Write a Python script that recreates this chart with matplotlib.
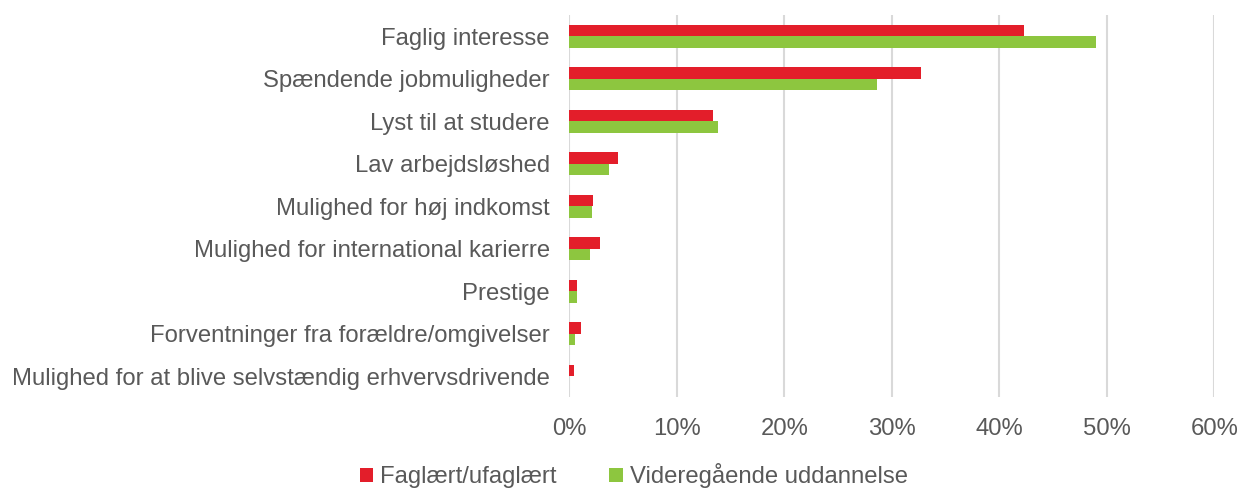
import numpy as np
import matplotlib.pyplot as plt
from matplotlib.ticker import PercentFormatter

plt.rcParams['font.family'] = ['Liberation Sans', 'DejaVu Sans']

categories = ["Faglig interesse", "Spændende jobmuligheder", "Lyst til at studere",
              "Lav arbejdsløshed", "Mulighed for høj indkomst",
              "Mulighed for international karierre", "Prestige",
              "Forventninger fra forældre/omgivelser",
              "Mulighed for at blive selvstændig erhvervsdrivende"]
faglaert = [42.3, 32.7, 13.4, 4.5, 2.2, 2.9, 0.7, 1.1, 0.4]
videregaaende = [49.0, 28.6, 13.8, 3.7, 2.1, 1.9, 0.7, 0.5, 0.0]

red = "#E31E2A"
green = "#8DC63F"
txt = "#595959"
fs = 17.2

fig = plt.figure(figsize=(12.43, 4.88), dpi=100)
ax = fig.add_axes([0.458, 0.186, 0.519, 0.783])

y = np.arange(len(categories))
h = 0.27
ax.barh(y - h / 2, faglaert, height=h, color=red, label="Faglært/ufaglært", zorder=3)
ax.barh(y + h / 2, videregaaende, height=h, color=green, label="Videregående uddannelse", zorder=3)

ax.set_ylim(len(categories) - 0.5, -0.5)
ax.set_xlim(0, 60)
ax.set_xticks(range(0, 61, 10))
ax.xaxis.set_major_formatter(PercentFormatter(decimals=0))
ax.set_yticks(y)
ax.set_yticklabels(categories)
ax.grid(axis='x', color="#D9D9D9", linewidth=1.5, zorder=0)
for s in ax.spines.values():
    s.set_visible(False)
ax.tick_params(axis='y', length=0, pad=14, labelsize=fs, labelcolor=txt)
ax.tick_params(axis='x', length=0, pad=15, labelsize=fs, labelcolor=txt)

fig.legend(loc='lower center', bbox_to_anchor=(0.51, -0.045), ncol=2, frameon=False,
           fontsize=fs, labelcolor=txt, handlelength=0.55, handleheight=0.55,
           handletextpad=0.3, columnspacing=2.2)

fig.savefig("out.png", dpi=100)
